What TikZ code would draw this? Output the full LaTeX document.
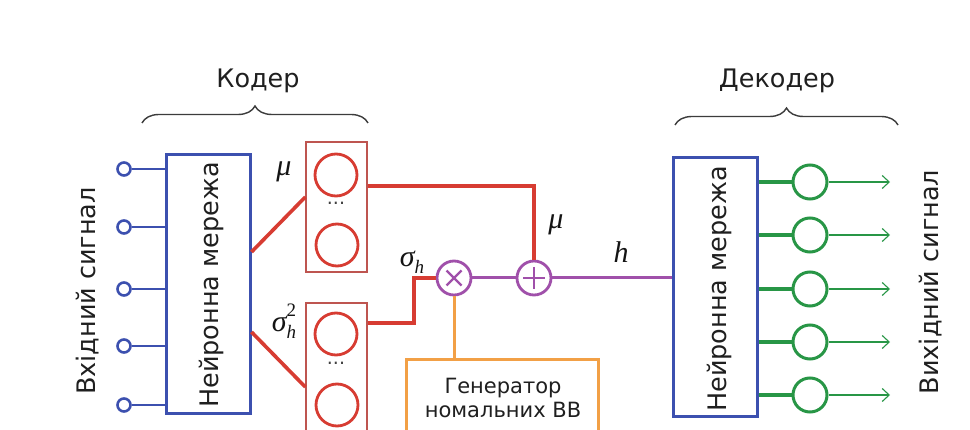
\documentclass[tikz,border=0pt]{standalone}
\usepackage{fontspec}
\setmainfont{DejaVu Sans}
\newfontfamily\gfont{Liberation Serif}
\usetikzlibrary{decorations.pathreplacing,arrows.meta}
\definecolor{cblue}{RGB}{60,80,175}
\definecolor{cred}{RGB}{215,60,50}
\definecolor{cboxred}{RGB}{190,85,80}
\definecolor{cpurple}{RGB}{160,80,170}
\definecolor{corange}{RGB}{242,160,70}
\definecolor{cgreen}{RGB}{40,150,70}
\definecolor{cbrace}{RGB}{60,60,60}
\newcommand{\smallsz}{\fontsize{19}{19}\selectfont}
\begin{document}
\begin{tikzpicture}[x=1pt,y=-1pt,
  bigtxt/.style={font=\fontsize{25.5}{30}\selectfont, text=black!88, inner sep=0pt},
  gtxt/.style={font=\fontsize{21}{24}\selectfont, text=black!88, inner sep=0pt, align=center},
  mtxt/.style={font=\gfont\itshape\fontsize{30}{32}\selectfont, text=black!92, inner sep=0pt},
  dots/.style={font=\fontsize{19}{20}\selectfont, inner sep=0pt, text=black!75},
  incirc/.style={circle,draw=cblue,line width=2.6pt,minimum size=13pt,inner sep=0pt},
  inline/.style={draw=cblue,line width=1.1pt},
  bluebox/.style={draw=cblue,line width=3pt,inner sep=0pt},
  redbox/.style={draw=cboxred,line width=1.4pt,inner sep=0pt},
  redcirc/.style={circle,draw=cred,line width=2.8pt,minimum size=42pt,inner sep=0pt},
  redline/.style={draw=cred,line width=3.6pt},
  purpleline/.style={draw=cpurple,line width=3pt},
  opcirc/.style={circle,draw=cpurple,line width=2.8pt,minimum size=34pt,inner sep=0pt},
  orangebox/.style={draw=corange,line width=3pt,inner sep=0pt},
  orangeline/.style={draw=corange,line width=3pt},
  outcirc/.style={circle,draw=cgreen,line width=3pt,minimum size=34pt,inner sep=0pt},
  greenline/.style={draw=cgreen,line width=3.6pt},
  greenarrow/.style={draw=cgreen,line width=1.1pt,-{Straight Barb[length=7pt,width=13pt,line width=1.1pt]}},
  bracestyle/.style={draw=cbrace,line width=1.4pt,decorate,decoration={brace,amplitude=17pt}}
]
\clip (0,0) rectangle (970,430);
\fill[white] (0,0) rectangle (970,430);

% ---------- encoder ----------
\node[bigtxt,rotate=90,anchor=base] (inlabel) at (95,291) {Вхідний сигнал};
\node[bluebox,minimum width=84pt,minimum height=259pt] (enc) at (208,284) {};
\node[bigtxt,rotate=90,anchor=base] (enctext) at (218,285) {Нейронна мережа};

\foreach \i/\y in {1/169,2/227,3/289,4/346,5/405}{
  \node[incirc] (i\i) at (124,\y) {};
  \draw[inline] (i\i.east) -- (i\i -| enc.west);
}

\draw[bracestyle] (142,123) -- (368,123);
\node[bigtxt,anchor=base] (coder) at (258,88) {Кодер};

% mu box
\node[redbox,minimum width=61pt,minimum height=130pt] (mubox) at (336.5,207) {};
\node[redcirc] (mu1) at (336,175) {};
\node[redcirc] (mu2) at (337,245) {};
\node[dots] (mudots) at (336,203) {...};
\node[mtxt] (mulab) at (284,172) {μ};

% sigma box
\node[redbox,minimum width=61pt,minimum height=130pt] (sbox) at (336.5,368) {};
\node[redcirc] (s1) at (336,334) {};
\node[redcirc] (s2) at (337,405) {};
\node[dots] (sdots) at (336,363) {...};
\node[mtxt] (slab) at (284,321) {σ\rlap{\raisebox{0.5em}{\smallsz\upshape 2}}\raisebox{-0.25em}{\smallsz h}};

\draw[redline] ([yshift=32pt]enc.east) -- ([yshift=10pt]mubox.west);
\draw[redline] ([yshift=-48pt]enc.east) -- ([yshift=-19pt]sbox.west);

% operations
\node[opcirc,path picture={\draw[cpurple,line width=2.4pt]
   ([shift={(-7.5,-7.5)}]path picture bounding box.center) -- ++(15,15)
   ([shift={(-7.5,7.5)}]path picture bounding box.center) -- ++(15,-15);}] (mul) at (454,278) {};
\node[opcirc,path picture={\draw[cpurple,line width=2.4pt]
   ([shift={(-11,0)}]path picture bounding box.center) -- ++(22,0)
   ([shift={(0,-11)}]path picture bounding box.center) -- ++(0,22);}] (add) at (534,278) {};

\draw[redline] ([yshift=21pt]mubox.east) -| (add.north);
\draw[redline] ([yshift=45pt]sbox.east) -- ++(46,0) |- (mul.west);

\node[mtxt] (sigh) at (412,262) {σ\raisebox{-0.22em}{\smallsz h}};
\node[mtxt] (mulab2) at (556,225) {μ};
\node[mtxt] (hlab) at (621,252) {h};

% generator
\node[orangebox,minimum width=192pt,minimum height=80pt] (gen) at (502,400) {};
\node[gtxt] (gentext) at (503,398) {Генератор\\номальних ВВ};
\draw[orangeline] (mul.south) -- (mul.south |- gen.north);

% ---------- decoder ----------
\node[bluebox,minimum width=84pt,minimum height=259pt] (dec) at (715,287.5) {};
\node[bigtxt,rotate=90,anchor=base] (dectext) at (726,289) {Нейронна мережа};
\draw[purpleline] (mul.east) -- (add.west);
\draw[purpleline] (add.east) -- (add.east -| dec.west);

\foreach \i/\y in {1/182,2/235,3/289,4/342,5/395}{
  \node[outcirc] (o\i) at (810,\y) {};
  \coordinate (a\i) at (890,\y);
  \draw[greenline] (o\i -| dec.east) -- (o\i.west);
  \draw[greenarrow] (o\i.east) -- (a\i);
}

\node[bigtxt,rotate=90,anchor=base] (outlabel) at (938,282) {Вихідний сигнал};
\draw[bracestyle] (675,125) -- (898,125);
\node[bigtxt,anchor=base] (decoder) at (777,88) {Декодер};
\end{tikzpicture}
\end{document}
